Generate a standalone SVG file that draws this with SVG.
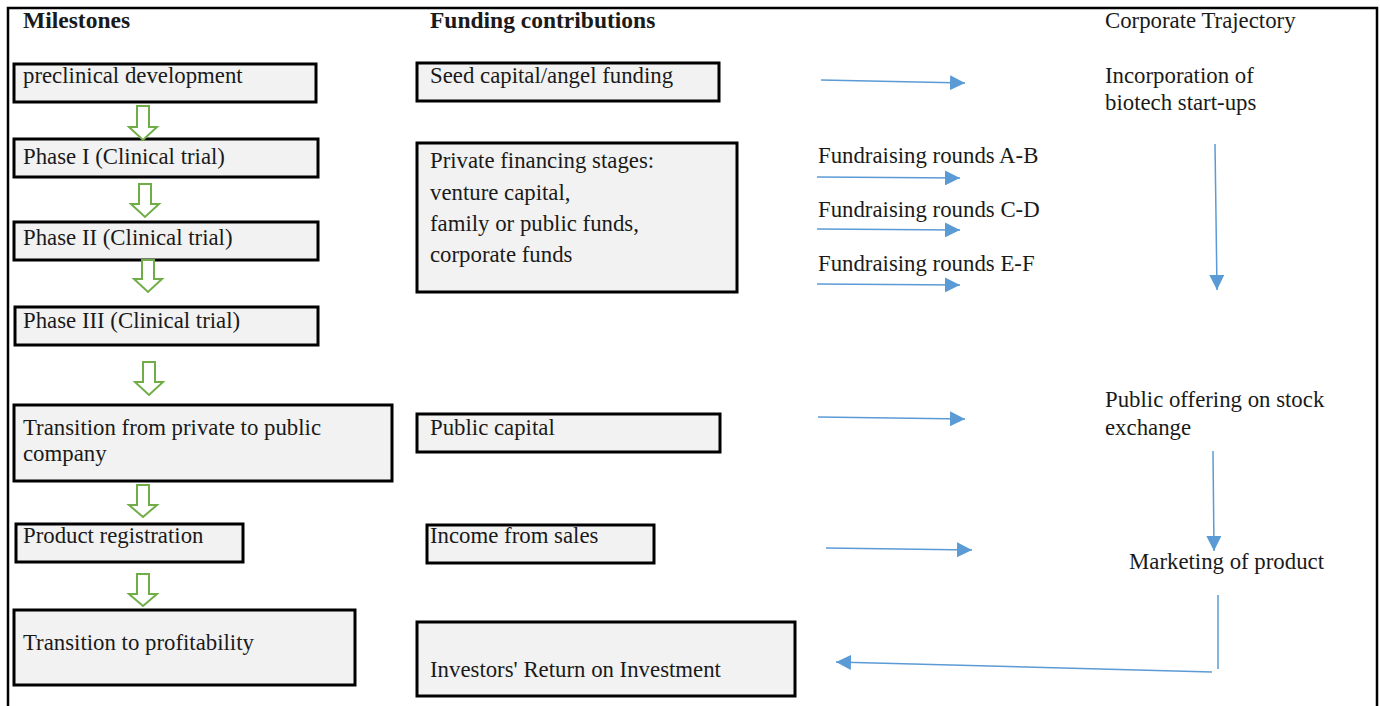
<svg xmlns="http://www.w3.org/2000/svg" width="1380" height="706" viewBox="0 0 1380 706">
<defs>
<style>
text{font-family:"Liberation Serif","Times New Roman",serif;font-size:22.8px;fill:#1a1a1a}
.h{font-weight:bold;font-size:23.5px}
.box{fill:#f2f2f2;stroke:#000;stroke-width:3}
.green{fill:#fff;stroke:#70ad47;stroke-width:2;stroke-linejoin:miter}
.blue{fill:none;stroke:#5b9bd5;stroke-width:1.5}
.frame{stroke:#000;stroke-width:2.5;fill:none}
</style>
<marker id="ahb" viewBox="0 0 10 10" refX="10" refY="5" markerWidth="15" markerHeight="15" markerUnits="userSpaceOnUse" orient="auto">
<path d="M0,0 L10,5 L0,10 Z" fill="#5b9bd5"/>
</marker>
</defs>
<rect width="1380" height="706" fill="#fff"/>
<path class="frame" d="M8,706 L8,8 L1377,8 L1377,706"/>
<g id="headers">
<text class="h" x="23" y="28">Milestones</text>
<text class="h" x="430" y="28">Funding contributions</text>
<text x="1105" y="28">Corporate Trajectory</text>
</g>
<g id="m1"><rect class="box" x="14" y="64" width="302" height="38"/><text x="23" y="83">preclinical development</text></g>
<g id="m2"><rect class="box" x="14" y="139" width="304" height="38"/><text x="23" y="164">Phase I (Clinical trial)</text></g>
<g id="m3"><rect class="box" x="14" y="222" width="304" height="38"/><text x="23" y="245">Phase II (Clinical trial)</text></g>
<g id="m4"><rect class="box" x="15" y="307" width="303" height="38"/><text x="23" y="328">Phase III (Clinical trial)</text></g>
<g id="m5"><rect class="box" x="14" y="405" width="378" height="76"/><text x="23" y="435">Transition from private to public</text><text x="23" y="461">company</text></g>
<g id="m6"><rect class="box" x="16" y="524" width="227" height="38"/><text x="23" y="543">Product registration</text></g>
<g id="m7"><rect class="box" x="14" y="610" width="341" height="75"/><text x="23" y="650">Transition to profitability</text></g>
<g id="f1"><rect class="box" x="417" y="63" width="302" height="38"/><text x="430" y="83">Seed capital/angel funding</text></g>
<g id="f2"><rect class="box" x="417" y="143" width="320" height="149"/><text x="430" y="168">Private financing stages:</text><text x="430" y="200">venture capital,</text><text x="430" y="231">family or public funds,</text><text x="430" y="262">corporate funds</text></g>
<g id="f3"><rect class="box" x="417" y="414" width="303" height="38"/><text x="430" y="435">Public capital</text></g>
<g id="f4"><rect class="box" x="427" y="525" width="227" height="38"/><text x="430" y="543">Income from sales</text></g>
<g id="f5"><rect class="box" x="417" y="622" width="378" height="74"/><text x="430" y="677">Investors' Return on Investment</text></g>
<g id="c1"><text x="1105" y="83">Incorporation of</text><text x="1105" y="110">biotech start-ups</text></g>
<g id="c2"><text x="1105" y="407">Public offering on stock</text><text x="1105" y="435">exchange</text></g>
<g id="c3"><text x="1129" y="569">Marketing of product</text></g>
<g id="labels">
<text x="818" y="163">Fundraising rounds A-B</text>
<text x="818" y="217">Fundraising rounds C-D</text>
<text x="818" y="271">Fundraising rounds E-F</text>
</g>
<g id="connectors">
<path class="green" d="M137,106 L149,106 L149,127 L157,127 L143,140 L129,127 L137,127 Z"/>
<path class="green" d="M139,184 L151,184 L151,204 L159,204 L145,217 L131,204 L139,204 Z"/>
<path class="green" d="M142,260 L154,260 L154,279 L162,279 L148,292 L134,279 L142,279 Z"/>
<path class="green" d="M143,362 L155,362 L155,382 L163,382 L149,395 L135,382 L143,382 Z"/>
<path class="green" d="M137,485 L149,485 L149,505 L157,505 L143,517 L129,505 L137,505 Z"/>
<path class="green" d="M137,574 L149,574 L149,594 L157,594 L143,606 L129,594 L137,594 Z"/>
<line class="blue" x1="821" y1="80" x2="965" y2="83" marker-end="url(#ahb)"/>
<line class="blue" x1="817" y1="177" x2="960" y2="178" marker-end="url(#ahb)"/>
<line class="blue" x1="817" y1="229" x2="960" y2="230" marker-end="url(#ahb)"/>
<line class="blue" x1="817" y1="284" x2="960" y2="285" marker-end="url(#ahb)"/>
<line class="blue" x1="818" y1="417" x2="965" y2="419" marker-end="url(#ahb)"/>
<line class="blue" x1="826" y1="548" x2="972" y2="550" marker-end="url(#ahb)"/>
<line class="blue" x1="1215" y1="144" x2="1217" y2="290" marker-end="url(#ahb)"/>
<line class="blue" x1="1213" y1="451" x2="1214" y2="551" marker-end="url(#ahb)"/>
<line class="blue" x1="1218" y1="595" x2="1218" y2="669"/>
<line class="blue" x1="1212" y1="672" x2="836" y2="662" marker-end="url(#ahb)"/>
</g>
</svg>
